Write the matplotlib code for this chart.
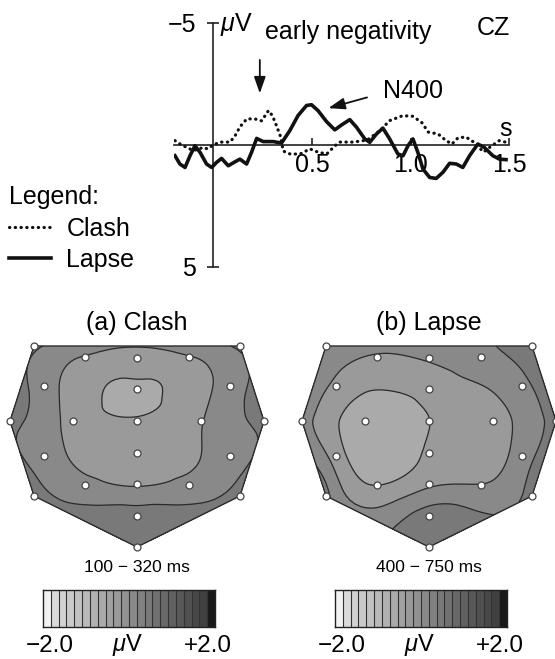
import numpy as np
import matplotlib
matplotlib.use('Agg')
import matplotlib.pyplot as plt
import matplotlib.tri as mtri
from matplotlib.colors import ListedColormap, BoundaryNorm

plt.rcParams['font.family'] = ['Liberation Sans', 'DejaVu Sans']
plt.rcParams['mathtext.fontset'] = 'custom'
plt.rcParams['mathtext.it'] = 'Liberation Sans:italic'
plt.rcParams['mathtext.rm'] = 'Liberation Sans'

W, H = 555, 659
FS = 18

# ERP at CZ: time in s, amplitude in uV (negative is plotted up)
lapse_t = [-0.194, -0.169, -0.143, -0.118, -0.093, -0.067, -0.034, -0.008, 0.017, 0.042,
           0.076, 0.110, 0.135, 0.169, 0.194, 0.220, 0.253, 0.304, 0.346, 0.388,
           0.430, 0.473, 0.498, 0.531, 0.574, 0.616, 0.650, 0.692, 0.726, 0.768,
           0.793, 0.827, 0.860, 0.894, 0.936, 0.962, 0.987, 1.012, 1.037, 1.063,
           1.097, 1.130, 1.164, 1.198, 1.232, 1.265, 1.299, 1.341, 1.374, 1.417,
           1.451, 1.484]
lapse_uv = [0.44, 0.78, 0.92, 0.44, 0.03, 0.30, 0.78, 0.92, 0.71, 0.55,
            0.85, 0.69, 0.58, 0.78, 0.30, -0.27, -0.14, -0.14, -0.08, -0.59,
            -1.21, -1.62, -1.65, -1.41, -0.96, -0.62, -0.82, -1.04, -0.73, -0.25,
            -0.11, -0.45, -0.69, -0.25, 0.37, 0.44, 0.03, -0.25, 0.30, 0.99,
            1.33, 1.37, 1.12, 0.75, 0.78, 0.92, 0.44, -0.04, 0.10, 0.44,
            0.58, 0.60]

clash_t = [-0.194, -0.168, -0.152, -0.101, -0.05, -0.03, 0.0, 0.034, 0.085, 0.11,
           0.135, 0.17, 0.21, 0.245, 0.28, 0.30, 0.32, 0.34, 0.355, 0.39,
           0.44, 0.49, 0.53, 0.575, 0.616, 0.64, 0.71, 0.78, 0.844, 0.894,
           0.96, 1.01, 1.056, 1.09, 1.14, 1.18, 1.21, 1.24, 1.28, 1.32,
           1.37, 1.41, 1.45, 1.49]
clash_uv = [-0.18, -0.04, 0.03, 0.23, 0.10, 0.16, 0.0, -0.12, -0.12, -0.37,
            -0.74, -1.07, -1.07, -0.99, -1.41, -1.20, -0.80, -0.37, 0.25, 0.37,
            0.37, 0.16, 0.29, 0.37, 0.04, -0.12, -0.12, -0.20, -0.58, -1.00,
            -1.20, -1.18, -0.93, -0.53, -0.45, -0.18, -0.04, -0.29, -0.33, -0.12,
            0.29, 0.04, -0.18, -0.10]

erp_xticks = [0.5, 1.0, 1.5]
erp_xlabels = ['0.5', '1.0', '1.5']
erp_yticks = [-5, 5]
erp_ylabels = ['\u22125', '5']

# electrode layout (schematic units, y up) and mean amplitudes per window
elec_x = [-103, -52, 0, 52, 103, -93, 0, 93, -127, -64, 0, 64, 127,
          -93, 0, 93, -52, 0, 52, -103, 103, 0, 0]
elec_y = [75, 64, 63, 64, 75, 35, 32, 35, 0, 0, 0, 0, 0,
          -35, -32, -35, -64, -63, -64, -75, -75, -95, -126]
hull_idx = [0, 4, 12, 20, 22, 19, 8, 0]

clash_map = [0.25, -0.20, -0.30, -0.20, 0.25, 0.0, -0.62, 0.0, 0.30, -0.30, -0.50, -0.20, 0.30,
             0.0, -0.35, 0.0, -0.06, -0.22, -0.06, 0.35, 0.35, 0.35, 0.40]
lapse_map = [0.0, -0.20, -0.15, 0.05, 0.35, -0.25, -0.40, 0.10, -0.05, -0.80, -0.55, -0.35, 0.30,
             -0.35, -0.50, 0.0, -0.55, -0.25, -0.17, 0.30, 0.35, 0.35, 0.40]

panels = [('(a) Clash', '100 \u2212 320 ms', clash_map, 137),
          ('(b) Lapse', '400 \u2212 750 ms', lapse_map, 429)]

cbar_edges = np.linspace(-2.0, 2.0, 23)

# 22 step grey scale, light = negative
grays = np.linspace(0.89, 0.22, 22)
grays[0] = 0.95
grays[-1] = 0.10
gray_cmap = ListedColormap([str(g) for g in grays])
gray_norm = BoundaryNorm(cbar_edges, 22)
map_levels = cbar_edges[::2]
layer_colors = [str(g) for g in grays[1::2]]

fig = plt.figure(figsize=(W / 100, H / 100), dpi=100)

# ---- ERP waveform ----
ax = fig.add_axes([173.8 / W, 1 - 267 / H, 335.4 / W, 244 / H])
l_clash, = ax.plot(clash_t, clash_uv, color='#111111', lw=2.3, ls=(0, (0.1, 1.7)),
                   dash_capstyle='round', zorder=3)
l_lapse, = ax.plot(lapse_t, lapse_uv, color='#111111', lw=2.6, zorder=4)
ax.set_xlim(-0.2, 1.5)
ax.set_ylim(5, -5)
ax.spines['top'].set_visible(False)
ax.spines['right'].set_visible(False)
ax.spines['left'].set_position(('data', 0))
ax.spines['bottom'].set_position(('data', 0))
for s in ['left', 'bottom']:
    ax.spines[s].set_linewidth(1.2)
    ax.spines[s].set_color('#222222')
ax.set_xticks(erp_xticks, labels=erp_xlabels)
ax.set_yticks(erp_yticks, labels=erp_ylabels)
ax.tick_params(axis='x', direction='in', length=5, width=1.2, pad=6, labelsize=FS,
               color='#222222')
ax.tick_params(axis='y', direction='inout', length=9, width=1.2, pad=8, labelsize=FS,
               color='#222222')
ax.patch.set_visible(False)

ax.text(0.034, -4.66, r'$\mu$V', fontsize=FS, va='baseline', ha='left')
ax.text(0.262, -4.36, 'early negativity', fontsize=FS, va='baseline', ha='left')
ax.text(1.334, -4.5, 'CZ', fontsize=FS, va='baseline', ha='left')
ax.text(1.481, -0.38, 's', fontsize=FS, va='baseline', ha='center')
ax.annotate('', xy=(0.236, -2.0), xytext=(0.236, -3.6),
            arrowprops=dict(arrowstyle='-|>,head_length=1.0,head_width=0.35',
                            color='#111111', lw=1.3))
ax.annotate('', xy=(0.57, -1.48), xytext=(0.793, -1.98),
            arrowprops=dict(arrowstyle='-|>,head_length=1.0,head_width=0.35',
                            color='#111111', lw=1.3))
ax.text(0.859, -1.93, 'N400', fontsize=FS, va='baseline', ha='left')

fig.legend(handles=[l_clash, l_lapse], labels=['Clash', 'Lapse'], loc='upper left',
           bbox_to_anchor=(9 / W, 1 - 185 / H), frameon=False, fontsize=FS,
           title='Legend:', title_fontsize=FS, alignment='left', handlelength=1.7,
           handletextpad=0.6, labelspacing=0.3, borderpad=0, borderaxespad=0)

# ---- topographic maps ----
tri = mtri.Triangulation(elec_x, elec_y)
refiner = mtri.UniformTriRefiner(tri)
ex = np.array(elec_x)
ey = np.array(elec_y)

for title, window, values, cx in panels:
    tax = fig.add_axes([(cx - 135) / W, (659 - 553) / H, 270 / W, 214 / H])
    tri_f, z_f = refiner.refine_field(np.asarray(values, float), subdiv=4)
    tax.tricontourf(tri_f, z_f, levels=map_levels, colors=layer_colors)
    tax.tricontour(tri_f, z_f, levels=map_levels, colors='#2b2b2b', linewidths=0.9,
                   linestyles='solid')
    tax.plot(ex[hull_idx], ey[hull_idx], color='#2b2b2b', lw=1.0)
    tax.plot(ex, ey, 'o', ms=5, mfc='white', mec='#444444', mew=0.9, clip_on=False)
    tax.set_xlim(-135, 135)
    tax.set_ylim(-132, 82)
    tax.axis('off')
    tax.text(0, 98, title, ha='center', va='center', fontsize=FS, clip_on=False)
    tax.text(0, -146, window, ha='center', va='center', fontsize=12.5, clip_on=False)

    # colour bar
    cax = fig.add_axes([(cx - 94) / W, (659 - 627) / H, 172 / W, 37 / H])
    mids = (cbar_edges[:-1] + cbar_edges[1:]) / 2
    cax.imshow(mids[None, :], cmap=gray_cmap, norm=gray_norm, aspect='auto',
               extent=(-2, 2, 0, 1), interpolation='nearest')
    cax.vlines(cbar_edges[1:-1], 0, 1, colors='#333333', linewidth=0.8)
    cax.set_xlim(-2, 2)
    cax.set_ylim(0, 1)
    cax.set_xticks([])
    cax.set_yticks([])
    for s in cax.spines.values():
        s.set_linewidth(1.0)
        s.set_color('#222222')
    cax.text(0.04, -0.5, '\u22122.0', transform=cax.transAxes, ha='center', va='center',
             fontsize=17.5)
    cax.text(0.49, -0.5, r'$\mu$V', transform=cax.transAxes, ha='center', va='center',
             fontsize=17)
    cax.text(0.96, -0.5, '+2.0', transform=cax.transAxes, ha='center', va='center',
             fontsize=17.5)

fig.savefig('out.png', dpi=100)
